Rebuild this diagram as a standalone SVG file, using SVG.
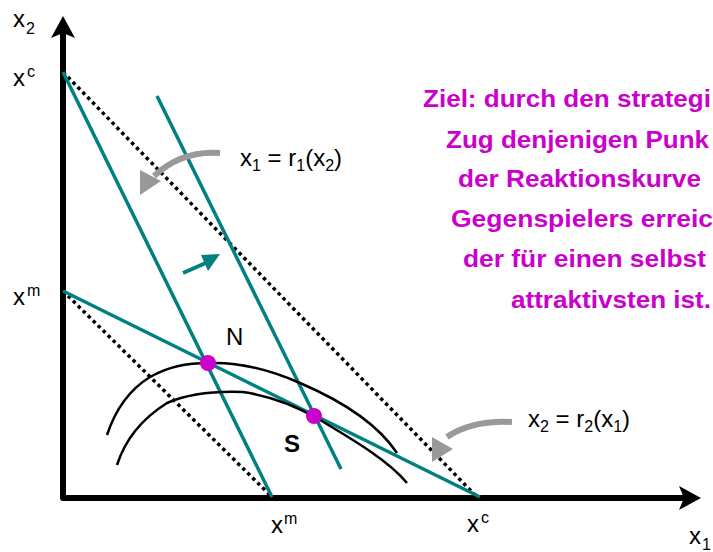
<svg xmlns="http://www.w3.org/2000/svg" width="713" height="552" viewBox="0 0 713 552">
<style>
text{font-family:"Liberation Sans",Arial,sans-serif;fill:#000}
.lbl{font-size:24px}
.sm{font-size:16px}
.teal{stroke:#008080;stroke-width:3.5;fill:none}
.dot{stroke:#000;stroke-width:3.5;stroke-dasharray:3.5 3.5;fill:none}
.curve{stroke:#000;stroke-width:2.5;fill:none;stroke-linejoin:round}
.gray{stroke:#999;stroke-width:6;fill:none}
.goal{font-size:23px;font-weight:bold;fill:#CC00CC}
</style>
<rect width="713" height="552" fill="#fff"/>
<g id="axes">
<polyline points="63,30 63,498 688,498" fill="none" stroke="#000" stroke-width="6" stroke-linejoin="round"/>
<polygon points="63,16 75,38 63,33 51,38" fill="#000"/>
<polygon points="701,498 679,510 684,498 679,486" fill="#000"/>
</g>
<g id="connectors">
<line class="dot" x1="63" y1="72" x2="477" y2="497"/>
<line class="dot" x1="63" y1="291" x2="272" y2="497"/>
<line class="teal" x1="63" y1="72" x2="272" y2="497"/>
<line class="teal" x1="157" y1="96" x2="341" y2="469"/>
<line class="teal" x1="63" y1="291" x2="480" y2="497"/>
<path class="curve" d="M107,435 C117,405 132,388 150,377 C168,367 185,363 210,363 C240,362 270,370 300,383 C335,398 375,420 397,453"/>
<path class="curve" d="M117,465 C125,440 140,420 167,403 C190,393 215,391 243,392 C270,396 295,405 320,420 C350,438 388,460 407,483"/>
<path class="gray" d="M220,153 Q182,150 154,176"/>
<polygon points="140,170 161,181 140,195" fill="#999"/>
<path class="gray" d="M512,422 Q472,420 447,437"/>
<polygon points="432,437 453,449 432,462" fill="#999"/>
<line x1="183" y1="273" x2="208" y2="262" stroke="#008080" stroke-width="4"/>
<polygon points="201,255 220,254 208,271" fill="#008080"/>
</g>
<g id="N">
<circle cx="208" cy="363" r="8" fill="#CC00CC"/>
<text class="lbl" x="226" y="345">N</text>
</g>
<g id="S">
<circle cx="314" cy="416" r="8" fill="#CC00CC"/>
<text class="lbl" x="284" y="452" font-weight="bold">S</text>
</g>
<g id="labels">
<text class="lbl" x="13" y="27">x</text><text class="sm" x="26" y="34">2</text>
<text class="lbl" x="13" y="86">x</text><text class="sm" x="27" y="77">c</text>
<text class="lbl" x="13" y="305">x</text><text class="sm" x="27" y="296">m</text>
<text class="lbl" x="271" y="533">x</text><text class="sm" x="284" y="524">m</text>
<text class="lbl" x="467" y="532">x</text><text class="sm" x="481" y="523">c</text>
<text class="lbl" x="689" y="544">x</text><text class="sm" x="702" y="550">1</text>
<text class="lbl" x="240" y="166">x<tspan class="sm" dy="5">1</tspan><tspan dy="-5"> = r</tspan><tspan class="sm" dy="5">1</tspan><tspan dy="-5">(x</tspan><tspan class="sm" dy="5">2</tspan><tspan dy="-5">)</tspan></text>
<text class="lbl" x="528" y="427">x<tspan class="sm" dy="5">2</tspan><tspan dy="-5"> = r</tspan><tspan class="sm" dy="5">2</tspan><tspan dy="-5">(x</tspan><tspan class="sm" dy="5">1</tspan><tspan dy="-5">)</tspan></text>
</g>
<g id="goal">
<text class="goal" x="423" y="107" textLength="288" lengthAdjust="spacingAndGlyphs">Ziel: durch den strategi</text>
<text class="goal" x="446" y="148" textLength="263" lengthAdjust="spacingAndGlyphs">Zug denjenigen Punk</text>
<text class="goal" x="458" y="187" textLength="243" lengthAdjust="spacingAndGlyphs">der Reaktionskurve</text>
<text class="goal" x="451" y="227" textLength="262" lengthAdjust="spacingAndGlyphs">Gegenspielers erreic</text>
<text class="goal" x="463" y="267" textLength="243" lengthAdjust="spacingAndGlyphs">der für einen selbst</text>
<text class="goal" x="511" y="308" textLength="200" lengthAdjust="spacingAndGlyphs">attraktivsten ist.</text>
</g>
</svg>
